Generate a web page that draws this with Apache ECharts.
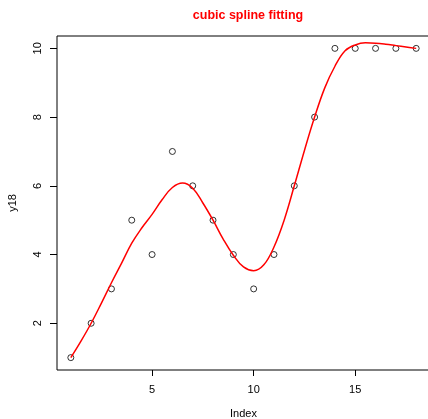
<!DOCTYPE html>
<html>
<head>
<meta charset="utf-8">
<script src="https://cdn.jsdelivr.net/npm/echarts@6/dist/echarts.min.js"></script>
<style>html,body{margin:0;padding:0;background:#fff}#c{width:428px;height:419px}</style>
</head>
<body>
<div id="c"></div>
<script>
var pointX = [1,2,3,4,5,6,7,8,9,10,11,12,13,14,15,16,17,18];
var pointY = [1,2,3,5,4,7,6,5,4,3,4,6,8,10,10,10,10,10];
var curveX = [1,1.5,2,2.5,3,3.5,4,4.5,5,5.5,6,6.5,7,7.5,8,8.5,9,9.5,10,10.5,11,11.5,12,12.5,13,13.5,14,14.5,15,15.5,16,16.5,17,17.5,18];
var curveY = [1.0,1.48,2.0,2.58,3.18,3.75,4.33,4.78,5.17,5.6,5.95,6.08,5.93,5.5,5.0,4.45,3.98,3.64,3.53,3.7,4.22,5.0,6.0,7.03,8.0,8.85,9.48,9.93,10.1,10.16,10.15,10.12,10.08,10.04,10.0];
var xTicks = [5,10,15];
var yTicks = [2,4,6,8,10];

var chart = echarts.init(document.getElementById('c'));
var font = 'Liberation Sans, Arial, sans-serif';
chart.setOption({
  animation: false,
  title: {
    text: 'cubic spline fitting',
    left: 243, textAlign: 'center', top: 4,
    textStyle: {color: '#ff0000', fontWeight: 'bold', fontSize: 12.5, fontFamily: font}
  },
  grid: {left: 57, top: 36, right: -2, bottom: 49, show: true, borderColor: '#000', borderWidth: 1,
         backgroundColor: 'transparent', containLabel: false, outerBoundsMode: 'none'},
  xAxis: {
    type: 'value', min: 0.32, max: 18.68,
    name: 'Index', nameLocation: 'middle', nameGap: 38,
    nameTextStyle: {color: '#000', fontSize: 11, fontFamily: font},
    axisLine: {show: false},
    splitLine: {show: false},
    axisTick: {show: true, length: 6, lineStyle: {color: '#000'}, customValues: xTicks},
    axisLabel: {color: '#000', fontSize: 11, fontFamily: font, margin: 14, customValues: xTicks}
  },
  yAxis: {
    type: 'value', min: 0.64, max: 10.36,
    name: 'y18', nameLocation: 'middle', nameGap: 39, nameRotate: 90,
    nameTextStyle: {color: '#000', fontSize: 11, fontFamily: font},
    axisLine: {show: false},
    splitLine: {show: false},
    axisTick: {show: true, length: 7, lineStyle: {color: '#000'}, customValues: yTicks},
    axisLabel: {color: '#000', fontSize: 11, fontFamily: font, margin: 14, rotate: 90, customValues: yTicks}
  },
  series: [
    {
      type: 'scatter', data: pointX.map(function(x, i){return [x, pointY[i]];}),
      symbol: 'circle', symbolSize: 6,
      itemStyle: {color: 'transparent', borderColor: '#000', borderWidth: 1}, z: 2
    },
    {
      type: 'line', data: curveX.map(function(x, i){return [x, curveY[i]];}),
      smooth: 0.4, showSymbol: false, lineStyle: {color: '#ff0000', width: 1.5}, z: 3
    }
  ]
});
</script>
</body>
</html>
